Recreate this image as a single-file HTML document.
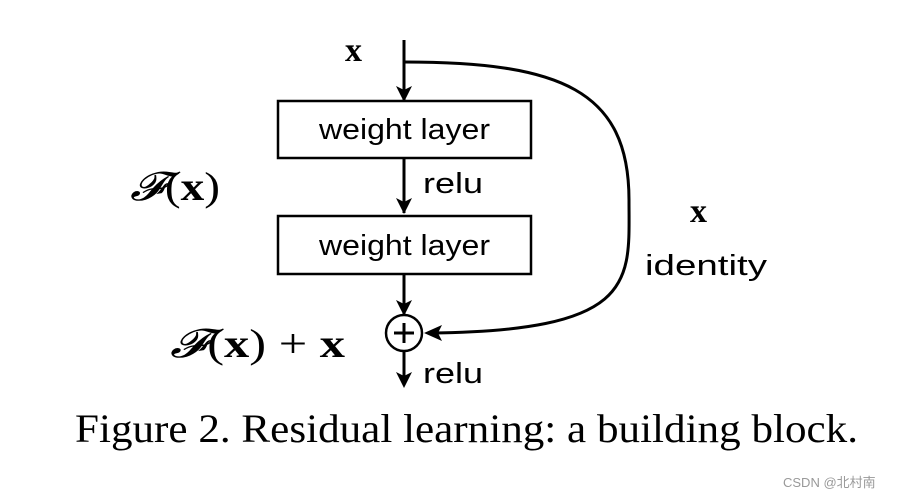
<!DOCTYPE html>
<html><head><meta charset="utf-8"><style>
html,body{margin:0;padding:0;background:#fff;}
svg{display:block;}
</style></head><body>
<svg width="898" height="498" viewBox="0 0 898 498" xmlns="http://www.w3.org/2000/svg">
<g stroke="#000" stroke-width="3" fill="none">
<line x1="404" y1="40" x2="404" y2="101"/>
<path d="M396,86 L404,102 L412,86 L404,90 z" fill="#000" stroke="none"/>
<rect x="278" y="101" width="253" height="57" stroke-width="2.5"/>
<line x1="404" y1="158" x2="404" y2="213"/>
<path d="M396,198 L404,214 L412,198 L404,202 z" fill="#000" stroke="none"/>
<rect x="278" y="216" width="253" height="58" stroke-width="2.5"/>
<line x1="404" y1="274" x2="404" y2="314"/>
<path d="M396,300 L404,316 L412,300 L404,304 z" fill="#000" stroke="none"/>
<circle cx="404" cy="333" r="18" stroke-width="2.5"/>
<line x1="394" y1="333" x2="414" y2="333"/>
<line x1="404" y1="323" x2="404" y2="343"/>
<line x1="404" y1="351" x2="404" y2="385"/>
<path d="M396,372 L404,388 L412,372 L404,376 z" fill="#000" stroke="none"/>
<path d="M404,62 C560,62 629,90 629,200 C629,280 640,331 430,333"/>
<path d="M442,325 L424,333 L442,341 L438,333 z" fill="#000" stroke="none"/>
</g>
<g font-family="Liberation Sans, sans-serif" font-size="29" fill="#000">
<text x="319" y="139" textLength="171" lengthAdjust="spacingAndGlyphs">weight layer</text>
<text x="319" y="255" textLength="171" lengthAdjust="spacingAndGlyphs">weight layer</text>
<text x="423" y="193" textLength="60" lengthAdjust="spacingAndGlyphs">relu</text>
<text x="423" y="383" textLength="60" lengthAdjust="spacingAndGlyphs">relu</text>
<text x="645" y="275" textLength="122" lengthAdjust="spacingAndGlyphs">identity</text>
</g>
<g font-family="Liberation Serif, serif" fill="#000">
<text x="345" y="61" font-size="34" font-weight="bold">x</text>
<text x="690" y="222" font-size="34" font-weight="bold">x</text>
<text x="130" y="200" font-size="40" textLength="90" lengthAdjust="spacingAndGlyphs"><tspan font-style="italic">𝓕</tspan>(<tspan font-weight="bold">x</tspan>)</text>
<text x="170" y="357" font-size="40" textLength="175" lengthAdjust="spacingAndGlyphs"><tspan font-style="italic">𝓕</tspan>(<tspan font-weight="bold">x</tspan>) + <tspan font-weight="bold">x</tspan></text>
<text x="75" y="442" font-size="40" textLength="783" lengthAdjust="spacingAndGlyphs">Figure 2. Residual learning: a building block.</text>
</g>
<text x="783" y="487" font-family="Liberation Sans, Noto Sans CJK SC, sans-serif" font-size="13" fill="#999">CSDN @北村南</text>
</svg>
</body></html>
